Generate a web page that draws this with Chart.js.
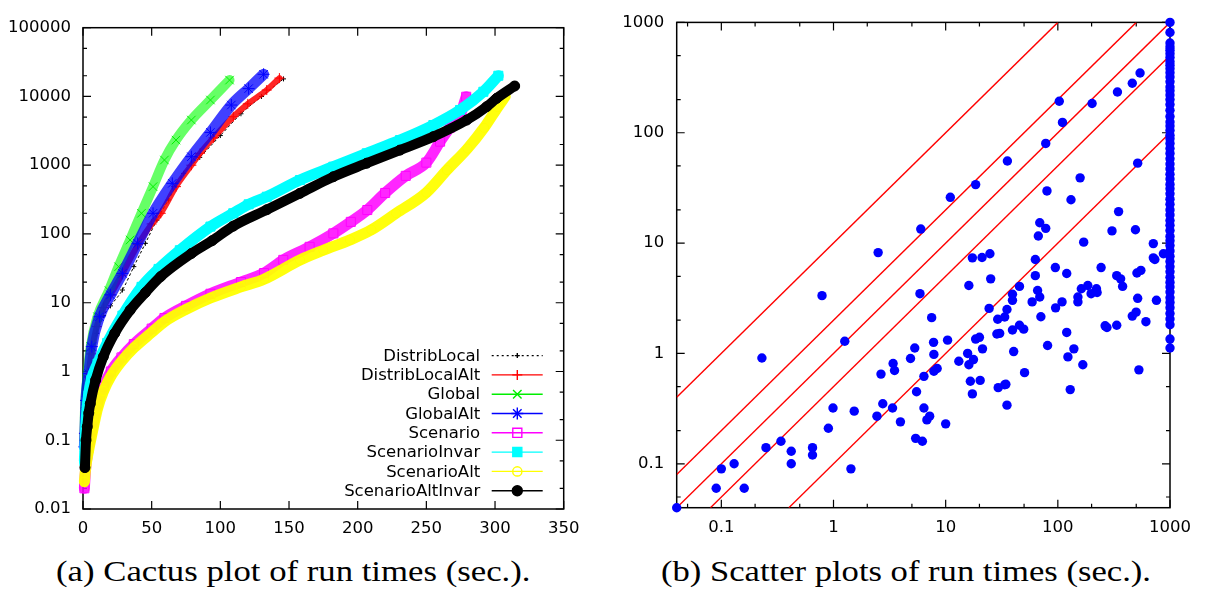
<!DOCTYPE html>
<html>
<head>
<meta charset="utf-8">
<script src="https://cdn.jsdelivr.net/npm/chart.js@4.4.0/dist/chart.umd.min.js"></script>
<style>
  html, body { margin: 0; padding: 0; background: #fff; }
  #fig { position: relative; width: 1210px; height: 593px; overflow: hidden; }
  .pane { position: absolute; top: 0; height: 545px; }
  .cap { position: absolute; top: 556px; left: 0; font-family: "Liberation Serif", serif;
         font-size: 30px; line-height: 30px; white-space: nowrap; color: #000; transform-origin: 0 0; }
</style>
</head>
<body>
<div id="fig">
  <div class="pane" style="left:0;width:600px"><canvas id="cactus"></canvas></div>
  <div class="pane" style="left:600px;width:610px"><canvas id="scatter"></canvas></div>
  <div class="cap" id="capA">(a) Cactus plot of run times (sec.).</div>
  <div class="cap" id="capB">(b) Scatter plots of run times (sec.).</div>
</div>
<script>
'use strict';

// (a) cactus plot: [instances solved, seconds]
const xTicksA = [0, 50, 100, 150, 200, 250, 300, 350];
const yTicksA = [0.01, 0.1, 1, 10, 100, 1000, 10000, 100000];
const yMinorA = [0.02, 0.05, 0.2, 0.5, 2, 5, 20, 50, 200, 500, 2000, 5000, 20000, 50000];

const seriesNames = ['DistribLocal', 'DistribLocalAlt', 'Global', 'GlobalAlt',
  'Scenario', 'ScenarioInvar', 'ScenarioAlt', 'ScenarioAltInvar'];

const distribLocal = [[1,0.06],[2,0.25],[4,0.8],[7,2],[10,3.6],[15,6.5],[20,9],[28.7,15.3],[37,33.5],
  [45.4,73],[53.8,159],[62.1,312],[73.3,760],[85,1300],[100,2700],[115,5600],[130,10000],[146,18000]];
const distribLocalAlt = [[1,0.1],[2,0.3],[4,0.85],[6,1.8],[10,4.5],[15,8.5],[20,13],[28,25],[40,70],
  [50,140],[56.6,200],[67.7,488],[78.9,1000],[85.2,1490],[95,2500],[109.4,5070],[120,7800],[133.8,12400],[143,18500]];
const globalRuns = [[1,0.1],[1.4,0.25],[3.1,0.8],[5.6,2.3],[10.6,6.25],[18.9,15],[25.9,33.4],[34.3,81.7],
  [42.6,200],[51,488],[59.3,1190],[67.7,2320],[78.9,4540],[92.8,8870],[106.7,17300]];
const globalAlt = [[1,0.08],[1.4,0.126],[2.2,0.38],[4.2,0.93],[6.4,2.3],[12,6.25],[20,13],[28.7,26.7],
  [39.8,73],[51,200],[65,545],[78.9,1330],[92.8,3000],[108,7500],[120.6,13000],[131.5,21000]];
const scenario = [[1,0.02],[2,0.04],[3.6,0.07],[5,0.1],[6.4,0.14],[8,0.2],[10.6,0.34],[15,0.6],[20.3,1.0],
  [28,1.6],[37,2.5],[50,4.2],[59.3,6],[75,9],[92.8,13.5],[115,20],[131.8,27],[145.8,42],[165,65],[182.3,102],
  [195,150],[207,223],[220,395],[235,700],[250,1090],[260,2200],[267,3500],[274,5000],[279,9900]];
const scenarioInvar = [[1,0.05],[2,0.15],[3,0.3],[4,0.45],[6,0.75],[10.6,1.3],[17.6,2.6],[28.7,6.5],
  [42.6,17],[55,31],[70.5,58],[92.8,128],[109.4,200],[120.6,270],[133.8,348],[158,609],[182.3,951],
  [206.6,1490],[230.8,2320],[255.1,3840],[274.5,6350],[291.5,11700],[302.4,20000]];
const scenarioAlt = [[1,0.025],[2,0.04],[4,0.07],[6.4,0.12],[8,0.17],[10.6,0.29],[15,0.52],[20.3,0.85],
  [28,1.4],[37,2.2],[50,3.7],[59.3,5.3],[75,8],[92.8,11.7],[115,17],[131.8,22],[158,41.8],[175,58],
  [194.4,82],[210,115],[228,200],[250,400],[265,850],[280,1750],[292,3500],[302,7000],[307.4,10000]];
const scenarioAltInvar = [[1.4,0.04],[2.2,0.1],[3.1,0.157],[4.2,0.25],[5.3,0.34],[9.2,0.75],[14.8,1.64],
  [23.1,3.6],[34.3,7.8],[45.4,14],[56.6,24],[78.9,52],[94,80],[109.4,130],[133.8,225],[158,390],[182.3,680],
  [206.6,1070],[230.8,1660],[255.1,2600],[279.4,4540],[293.9,7100],[301.2,9400],[314.3,14200]];

const cactusSeries = [distribLocal, distribLocalAlt, globalRuns, globalAlt,
  scenario, scenarioInvar, scenarioAlt, scenarioAltInvar];

// (b) scatter plot
const ticksB = [0.1, 1, 10, 100, 1000];
const minorB = [0.05, 0.2, 0.5, 2, 5, 20, 50, 200, 500];
const ratioLines = [10, 2, 1, 0.5, 0.1];
const timeoutX = 1000;
const timeoutY = [1000, 810, 650, 600, 560, 520, 480, 440, 410, 380, 350, 320, 290, 260, 240, 220, 200,
  180, 160, 140, 125, 115, 105, 95, 88, 80, 72, 65, 58, 52, 47, 42, 38, 34, 31, 28, 25, 22.5, 20, 18, 16,
  14.5, 13, 11.5, 10.5, 9.5, 8.5, 7.6, 6.8, 6.1, 5.5, 4.9, 4.4, 4.0, 3.6, 3.2, 2.9, 2.6, 2.3, 2.05, 1.82,
  1.35, 1.12];
const runPairs = [
  [0.04,0.04],[103,193],[110,124],[202,184],[340,234],[461,281],[541,348],[78,80],[35.5,55.5],[18.5,33.9],[11,26],
  [6.0,13.4],[2.5,8.2],[0.79,3.34],[5.9,3.48],[515,53],[158,39],[80,29.7],[131,24.7],[348,19.3],[69,15.3],
  [78,13.6],[67,11.6],[304,12.9],[492,13.2],[170,10.2],[710,9.9],[873,8.0],[710,7.35],[733,7.1],[17.3,7.35],
  [21.1,7.4],[24.8,8.0],[63,7.1],[95,6.0],[243,6.0],[120,5.3],[63,5.07],[335,5.07],[363,4.74],[507,5.36],
  [550,5.66],[25.2,4.74],[16.1,4.13],[45.5,4.05],[378,4.05],[162,3.86],[185,4.13],[198,3.48],[221,3.86],
  [224,3.57],[66,3.72],[69,3.25],[39.4,3.44],[39.4,3.03],[151,3.25],[515,3.16],[757,3.03],[59,2.93],
  [109,2.93],[151,2.93],
  [24.4,2.56],[35.2,2.5],[33.6,2.14],[29.1,2.04],[70.6,2.15],[95.5,2.59],[461,2.18],[499,2.37],[610,1.94],
  [264,1.78],[274,1.72],[335,1.80],[39.4,1.63],[45.5,1.80],[49.6,1.66],[28.6,1.50],[30.3,1.52],[120,1.55],
  [7.5,2.11],[7.8,1.26],[10.4,1.32],[18.5,1.35],[20,1.40],[21.3,1.10],[40.4,1.04],[81,1.18],[139,1.10],
  [123,0.93],[167,0.79],[528,0.71],[129,0.47],[50.5,0.67],[29.4,0.49],[33.6,0.52],[34.4,0.525],[35.2,0.34],
  [15.7,1.0],[13.1,0.85],[16.1,0.79],[17.7,0.88],[7.85,0.98],[7.85,0.69],[8.4,0.73],[16.6,0.56],[20.3,0.57],
  [17.3,0.43],[5.3,1.12],[4.86,0.90],[3.4,0.81],[3.5,0.70],[2.65,0.65],[6.4,0.62],[5.5,0.45],[2.75,0.35],
  [3.36,0.32],[2.44,0.27],[3.95,0.24],[6.4,0.32],[6.8,0.25],[7.2,0.27],[10,0.23],[5.4,0.17],[6.2,0.16],
  [1.26,1.29],[0.23,0.91],[0.99,0.32],[1.53,0.30],[0.90,0.21],[0.34,0.16],[0.25,0.14],[0.42,0.13],[0.42,0.1],
  [0.65,0.14],[0.65,0.12],[1.43,0.09],[0.13,0.1],[0.10,0.09],[0.09,0.06],[0.16,0.06]];

const FONT = 'DejaVu Sans';

// band = thick line under the markers, marker = gnuplot point type
const cactusStyles = [
  { color: '#000000', band: '#000000', width: 1, dash: [2, 3], marker: 'cross', r: 2.5, filled: false },
  { color: '#ff0000', band: 'rgba(255,0,0,0.85)', width: 6, marker: 'cross', r: 5, filled: false },
  { color: '#00ee00', band: 'rgba(0,255,0,0.6)', width: 10, marker: 'crossRot', r: 6, filled: false },
  { color: '#0000ff', band: 'rgba(0,0,255,0.75)', width: 11, marker: 'star', r: 6, filled: false },
  { color: '#ff00ff', band: 'rgba(255,0,255,0.85)', width: 11, marker: 'rect', r: 6.4, filled: false },
  { color: '#00ffff', band: '#00ffff', width: 11, marker: 'rect', r: 6.4, filled: true },
  { color: '#ffff00', band: 'rgba(255,255,0,0.95)', width: 11, marker: 'circle', r: 4.6, filled: false },
  { color: '#000000', band: '#000000', width: 10, marker: 'circle', r: 5, filled: true },
];

function tickFmt(v) { return String(v); }

// gnuplot style frame with inward ticks on all four sides
function framePlugin(xMajor, xMinor, yMajor, yMinor) {
  return {
    id: 'frame',
    beforeDatasetsDraw(chart) {
      const { ctx, chartArea: a, scales: { x, y } } = chart;
      ctx.save();
      ctx.strokeStyle = '#000';
      ctx.lineWidth = 1.2;
      const xt = (vals, len) => vals.forEach(v => {
        const p = x.getPixelForValue(v);
        ctx.beginPath();
        ctx.moveTo(p, a.bottom); ctx.lineTo(p, a.bottom - len);
        ctx.moveTo(p, a.top); ctx.lineTo(p, a.top + len);
        ctx.stroke();
      });
      const yt = (vals, len) => vals.forEach(v => {
        const p = y.getPixelForValue(v);
        ctx.beginPath();
        ctx.moveTo(a.left, p); ctx.lineTo(a.left + len, p);
        ctx.moveTo(a.right, p); ctx.lineTo(a.right - len, p);
        ctx.stroke();
      });
      xt(xMajor, 8); xt(xMinor, 4);
      yt(yMajor, 8); yt(yMinor, 4);
      ctx.lineWidth = 1.5;
      ctx.strokeRect(a.left, a.top, a.right - a.left, a.bottom - a.top);
      ctx.beginPath();
      ctx.restore();
    },
  };
}

// key in the lower right corner: label, line sample, marker
const keyPlugin = {
  id: 'key',
  afterDatasetsDraw(chart) {
    const { ctx, chartArea: a } = chart;
    const n = seriesNames.length;
    ctx.save();
    ctx.font = '16.5px "' + FONT + '"';
    ctx.textAlign = 'right';
    ctx.textBaseline = 'middle';
    seriesNames.forEach((name, i) => {
      const s = cactusStyles[i];
      const yy = a.bottom - 18.3 - (n - 1 - i) * 19.3;
      ctx.fillStyle = '#000';
      ctx.fillText(name, a.right - 83.5, yy + 1);
      ctx.strokeStyle = s.color;
      ctx.lineWidth = 1.4;
      ctx.setLineDash(s.dash || []);
      ctx.beginPath();
      ctx.moveTo(a.right - 72, yy); ctx.lineTo(a.right - 21, yy);
      ctx.stroke();
      ctx.setLineDash([]);
      ctx.fillStyle = s.filled ? s.color : 'rgba(0,0,0,0)';
      Chart.helpers.drawPoint(ctx, { pointStyle: s.marker, radius: s.r, borderWidth: 1.2, rotation: 0 },
        a.right - 46.4, yy);
    });
    ctx.restore();
  },
};

const tickFont = { family: FONT, size: 16.5 };

const cactusChart = new Chart(document.getElementById('cactus'), {
  type: 'scatter',
  data: {
    datasets: cactusSeries.map((pts, i) => {
      const s = cactusStyles[i];
      return {
        label: seriesNames[i],
        data: pts.map(([x, y]) => ({ x, y })),
        showLine: true,
        borderColor: s.band,
        borderWidth: s.width,
        borderDash: s.dash || [],
        borderJoinStyle: 'round',
        borderCapStyle: 'round',
        cubicInterpolationMode: 'monotone',
        pointStyle: s.marker,
        pointRadius: s.r,
        pointBorderColor: s.color,
        pointBackgroundColor: s.filled ? s.color : 'rgba(0,0,0,0)',
        pointBorderWidth: 1,
        clip: false,
        order: cactusSeries.length - i,
      };
    }),
  },
  options: {
    responsive: true,
    maintainAspectRatio: false,
    animation: false,
    events: [],
    layout: { padding: { left: 0, top: 27.7, right: 36.3, bottom: 0 } },
    plugins: { legend: { display: false }, tooltip: { enabled: false } },
    scales: {
      x: {
        type: 'linear', min: 0, max: 350,
        afterBuildTicks: s => { s.ticks = xTicksA.map(v => ({ value: v })); },
        afterFit: s => { s.height = 36; },
        grid: { display: false, drawTicks: false },
        border: { display: false },
        ticks: { font: tickFont, color: '#000', padding: 10, autoSkip: false, maxRotation: 0, callback: tickFmt },
      },
      y: {
        type: 'logarithmic', min: 0.01, max: 100000,
        afterBuildTicks: s => { s.ticks = yTicksA.map(v => ({ value: v })); },
        afterFit: s => { s.width = 83; },
        grid: { display: false, drawTicks: false },
        border: { display: false },
        ticks: { font: tickFont, color: '#000', padding: 12, autoSkip: false, callback: tickFmt },
      },
    },
  },
  plugins: [framePlugin(xTicksA, [], yTicksA, yMinorA), keyPlugin],
});

// y = k*x reference lines clipped to the axis range
const limB = { min: 0.04, max: 1000 };
const ratioData = ratioLines.map(k => {
  const x0 = Math.max(limB.min, limB.min / k);
  const x1 = Math.min(limB.max, limB.max / k);
  return [{ x: x0, y: k * x0 }, { x: x1, y: k * x1 }];
});

const scatterChart = new Chart(document.getElementById('scatter'), {
  type: 'scatter',
  data: {
    datasets: [
      {
        label: 'runs',
        data: runPairs.map(([x, y]) => ({ x, y })).concat(timeoutY.map(y => ({ x: timeoutX, y }))),
        showLine: false,
        pointRadius: 4.7,
        pointBackgroundColor: '#0000ff',
        pointBorderColor: '#0000ff',
        pointBorderWidth: 0,
        clip: false,
        order: 0,
      },
      ...ratioData.map((d, i) => ({
        label: 'ratio ' + ratioLines[i],
        data: d,
        showLine: true,
        borderColor: '#ff0000',
        backgroundColor: '#ff0000',
        borderWidth: 1.4,
        pointRadius: 0,
        pointHoverRadius: 0,
        order: 1 + i,
      })),
    ],
  },
  options: {
    responsive: true,
    maintainAspectRatio: false,
    animation: false,
    events: [],
    layout: { padding: { left: 0, top: 14.7, right: 40, bottom: 0 } },
    plugins: { legend: { display: false }, tooltip: { enabled: false } },
    scales: {
      x: {
        type: 'logarithmic', min: limB.min, max: limB.max,
        afterBuildTicks: s => { s.ticks = ticksB.map(v => ({ value: v })); },
        afterFit: s => { s.height = 37.3; },
        grid: { display: false, drawTicks: false },
        border: { display: false },
        ticks: { font: tickFont, color: '#000', padding: 10, autoSkip: false, maxRotation: 0, callback: tickFmt },
      },
      y: {
        type: 'logarithmic', min: limB.min, max: limB.max,
        afterBuildTicks: s => { s.ticks = ticksB.map(v => ({ value: v })); },
        afterFit: s => { s.width = 76.7; },
        grid: { display: false, drawTicks: false },
        border: { display: false },
        ticks: { font: tickFont, color: '#000', padding: 12.5, autoSkip: false, callback: tickFmt },
      },
    },
  },
  plugins: [framePlugin(ticksB, minorB, ticksB, minorB)],
});

// captions: stretch the serif text to the width of the original
function fitCaption(id, center, width) {
  const el = document.getElementById(id);
  const w = el.getBoundingClientRect().width;
  el.style.left = (center - width / 2) + 'px';
  el.style.transform = 'scaleX(' + (width / w).toFixed(4) + ')';
}
fitCaption('capA', 292.8, 474.5);
fitCaption('capB', 905.5, 490);
</script>
</body>
</html>
